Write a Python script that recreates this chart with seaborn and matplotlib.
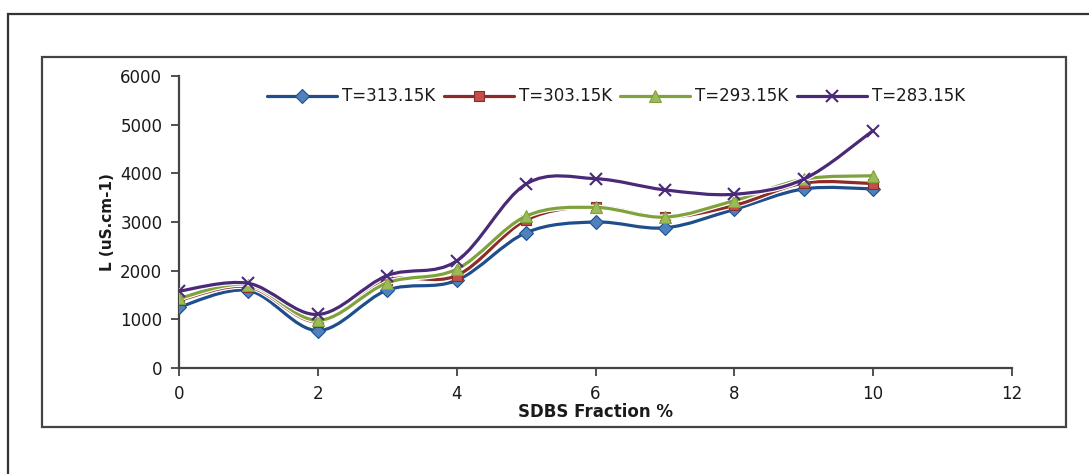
import numpy as np
import pandas as pd
import seaborn as sns
import matplotlib.pyplot as plt
from matplotlib.path import Path
from matplotlib.patches import PathPatch, Rectangle
from matplotlib.lines import Line2D
import matplotlib.patheffects as pe

sdbs = [0, 1, 2, 3, 4, 5, 6, 7, 8, 9, 10]
t313 = [1250, 1590, 770, 1600, 1800, 2780, 3000, 2880, 3260, 3680, 3680]
t303 = [1390, 1670, 950, 1800, 1900, 3040, 3310, 3100, 3340, 3800, 3790]
t293 = [1430, 1710, 980, 1750, 2030, 3120, 3300, 3100, 3440, 3880, 3950]
t283 = [1580, 1740, 1100, 1900, 2200, 3780, 3890, 3660, 3570, 3880, 4880]
labels = ["T=313.15K", "T=303.15K", "T=293.15K", "T=283.15K"]

line_colors = ["#1f4e8c", "#8e2b28", "#7fa23c", "#4a2a78"]
marker_colors = ["#4f81bd", "#c0504d", "#9bbb59", "#4a2a78"]
markers = ["D", "s", "^", "x"]
msizes = [7, 7.5, 8.5, 9]

df = pd.DataFrame({"x": sdbs * 4,
                   "y": t313 + t303 + t293 + t283,
                   "series": np.repeat(labels, len(sdbs))})

sns.set_style("white")
plt.rcParams["font.family"] = ["DejaVu Sans"]

fig = plt.figure(figsize=(10.89, 4.74), dpi=100)
ax = fig.add_axes([179 / 1089, 1 - 368 / 474, (1012 - 179) / 1089, (368 - 76) / 474])


def smooth_path(xs, ys):
    # excel-like smoothed line: cubic bezier through the points
    p = np.column_stack([xs, ys]).astype(float)
    ext = np.vstack([p[0], p, p[-1]])
    verts = [p[0]]
    codes = [Path.MOVETO]
    for i in range(len(p) - 1):
        c1 = ext[i + 1] + (ext[i + 2] - ext[i]) / 6
        c2 = ext[i + 2] - (ext[i + 3] - ext[i + 1]) / 6
        verts += [c1, c2, ext[i + 2]]
        codes += [Path.CURVE4] * 3
    return Path(verts, codes)


handles = []
for i, lab in enumerate(labels):
    sub = df[df.series == lab]
    patch = PathPatch(smooth_path(sub.x, sub.y), fill=False, edgecolor=line_colors[i],
                      lw=2.3, zorder=2 + i,
                      path_effects=[pe.Stroke(linewidth=4.0, foreground="white"), pe.Normal()])
    ax.add_patch(patch)
    mk = dict(marker=markers[i], markersize=msizes[i], markerfacecolor=marker_colors[i],
              markeredgecolor=line_colors[i], markeredgewidth=1.5 if markers[i] == "x" else 0.8)
    sns.lineplot(data=sub, x="x", y="y", ax=ax, linestyle="", zorder=3 + i, legend=False, **mk)
    handles.append(Line2D([], [], color=line_colors[i], lw=2.3, **mk))

ax.set_xlim(0, 12)
ax.set_ylim(0, 6000)
ax.set_xticks(range(0, 13, 2))
ax.set_yticks(range(0, 6001, 1000))
ax.tick_params(axis="both", direction="out", length=6, width=1.2, color="#333333",
               labelsize=12, labelcolor="#1a1a1a", pad=6, left=True, bottom=True)
for s in ["top", "right"]:
    ax.spines[s].set_visible(False)
for s in ["left", "bottom"]:
    ax.spines[s].set_color("#444444")
    ax.spines[s].set_linewidth(1.6)
ax.set_xlabel("SDBS Fraction %", fontsize=12, fontweight="bold", color="#1a1a1a", labelpad=0)
ax.set_ylabel("L (uS.cm-1)", fontsize=11, fontweight="bold", color="#1a1a1a", labelpad=4)

ax.legend(handles=handles, labels=labels, ncol=4, frameon=False, fontsize=12,
          labelcolor="#1a1a1a", loc="center", bbox_to_anchor=(0.5246, 0.93),
          handlelength=4.2, handletextpad=0.3, columnspacing=0.5)

# outer and inner frames
fig.patches.append(Rectangle((8 / 1089, -0.1), 1.2, 1 - 14 / 474 + 0.1,
                             transform=fig.transFigure, fill=False, ec="#333333", lw=1.6))
fig.patches.append(Rectangle((42 / 1089, 1 - 427 / 474), (1066 - 42) / 1089, (427 - 57) / 474,
                             transform=fig.transFigure, fill=False, ec="#444444", lw=1.6))

fig.savefig("out.png", dpi=100)
